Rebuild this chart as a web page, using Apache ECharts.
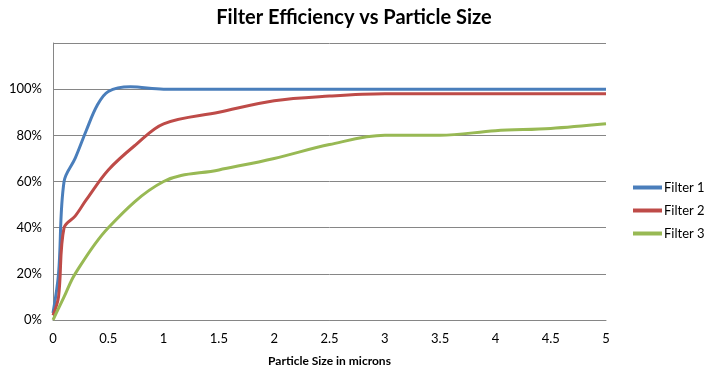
<!DOCTYPE html>
<html>
<head>
<meta charset="utf-8">
<script src="https://cdn.jsdelivr.net/npm/echarts@6/dist/echarts.min.js"></script>
<style>
html,body{margin:0;padding:0;background:#fff;}
#chart{width:708px;height:372px;}
</style>
</head>
<body>
<div id="chart"></div>
<script>
const seriesNames = ['Filter 1', 'Filter 2', 'Filter 3'];
const filter1X = [0, 0.05, 0.1, 0.2, 0.3, 0.4, 0.5, 0.7, 1, 1.5, 2, 2.5, 3, 3.5, 4, 4.5, 5];
const filter1Y = [0.03, 0.2, 0.6, 0.7, 0.82, 0.93, 0.99, 1.01, 1.0, 1.0, 1.0, 1.0, 1.0, 1.0, 1.0, 1.0, 1.0];
const filter2X = [0, 0.05, 0.1, 0.2, 0.3, 0.5, 0.75, 1, 1.5, 2, 2.5, 3, 3.5, 4, 4.5, 5];
const filter2Y = [0.02, 0.1, 0.4, 0.45, 0.52, 0.65, 0.76, 0.85, 0.9, 0.95, 0.97, 0.98, 0.98, 0.98, 0.98, 0.98];
const filter3X = [0, 0.05, 0.1, 0.2, 0.5, 1, 1.5, 2, 2.5, 3, 3.5, 4, 4.5, 5];
const filter3Y = [0, 0.05, 0.1, 0.2, 0.4, 0.6, 0.65, 0.7, 0.76, 0.8, 0.8, 0.82, 0.83, 0.85];
const colors = ['#4A7EBB', '#BE4B48', '#98B954'];
const xTicks = [0, 0.5, 1, 1.5, 2, 2.5, 3, 3.5, 4, 4.5, 5];

const xs = [filter1X, filter2X, filter3X];
const ys = [filter1Y, filter2Y, filter3Y];
const font = 'Lato, "Open Sans", sans-serif';

const chart = echarts.init(document.getElementById('chart'));
chart.setOption({
  animation: false,
  textStyle: { fontFamily: font },
  title: {
    text: 'Filter Efficiency vs Particle Size',
    left: 'center', top: 3,
    textStyle: { fontFamily: font, fontWeight: 'bold', fontSize: 20, color: '#000' }
  },
  legend: {
    orient: 'vertical', left: 628, top: 176, itemGap: 10,
    itemWidth: 29, itemHeight: 4, icon: 'rect',
    data: seriesNames,
    textStyle: { fontFamily: font, fontSize: 13, color: '#000', padding: [0, 0, 0, -3] }
  },
  grid: { left: 53, right: 102, top: 43, bottom: 50, containLabel: false },
  xAxis: {
    type: 'value', min: 0, max: 5, interval: 0.5,
    name: 'Particle Size in microns', nameLocation: 'middle', nameGap: 35,
    nameTextStyle: { fontFamily: font, fontWeight: 'bold', fontSize: 12, color: '#000' },
    axisLine: { lineStyle: { color: '#868686', width: 1 } },
    axisTick: { show: false },
    splitLine: { show: false },
    axisLabel: { color: '#000', fontSize: 13, margin: 12, formatter: v => String(v) }
  },
  yAxis: {
    type: 'value', min: 0, max: 1.2, interval: 0.2,
    axisLine: { show: true, lineStyle: { color: '#868686', width: 1 } },
    axisTick: { show: false },
    splitLine: { show: true, lineStyle: { color: '#868686', width: 1 } },
    axisLabel: { color: '#000', fontSize: 13, margin: 11,
      formatter: v => v > 1.1 ? '' : Math.round(v * 100) + '%' }
  },
  series: seriesNames.map((n, i) => ({
    name: n, type: 'line', smooth: 0.35, showSymbol: false,
    data: xs[i].map((x, j) => [x, ys[i][j]]),
    lineStyle: { color: colors[i], width: 3 },
    itemStyle: { color: colors[i] }
  }))
});
</script>
</body>
</html>
